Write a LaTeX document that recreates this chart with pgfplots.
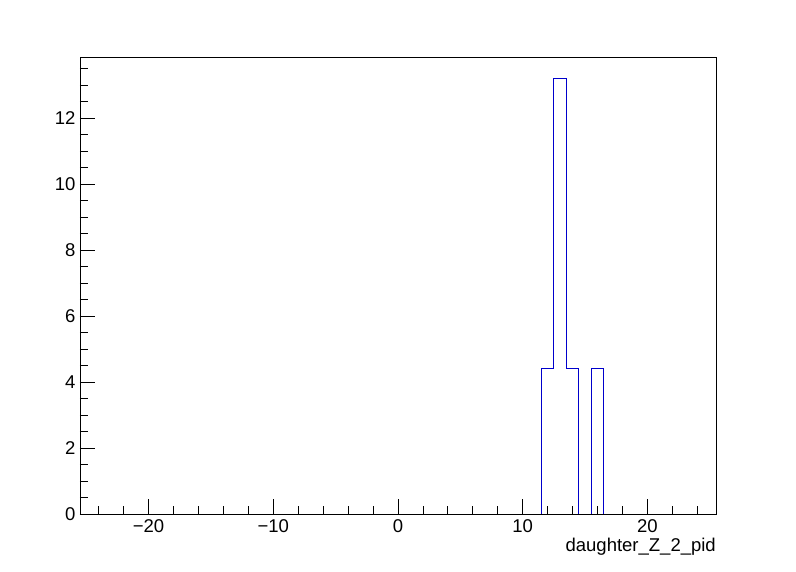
\documentclass[border=0pt]{standalone}
\usepackage{pgfplots}
\pgfplotsset{compat=1.18}
\usepackage{fontspec}
\setmainfont{Liberation Sans}
\definecolor{histblue}{RGB}{0,0,204}
\begin{document}
\begin{tikzpicture}[x=1pt,y=1pt]
\path[use as bounding box] (0,0) rectangle (796,572);
\begin{axis}[
  at={(80pt,58pt)}, anchor=south west,
  scale only axis, width=636pt, height=457pt,
  xmin=-25.5, xmax=25.5, ymin=0, ymax=13.86,
  axis line style={black, line width=0.8pt},
  tick pos=left, tick align=inside,
  xtick={-20,-10,0,10,20},
  xticklabels={−20,−10,0,10,20},
  minor xtick={-24,-22,...,24},
  ytick={0,2,...,12},
  yticklabels={0,2,4,6,8,10,12},
  minor ytick={0,0.5,...,13.5},
  major tick length=15pt, minor tick length=8pt,
  every tick/.style={black, line width=0.8pt},
  tick label style={font=\fontsize{18.5}{22}\selectfont},
  xticklabel style={yshift=-2pt},
  yticklabel style={xshift=-1pt},
  xlabel={daughter\_Z\_2\_pid},
  xlabel style={at={(rel axis cs:1,0)}, anchor=north east, yshift=-24pt, font=\fontsize{18.5}{22}\selectfont, inner sep=0pt},
  clip=false,
]
\addplot[histblue, line width=1pt, sharp plot] coordinates {
(11.5,0)(11.5,4.4)(12.5,4.4)(12.5,13.2)(13.5,13.2)(13.5,4.4)(14.5,4.4)(14.5,0)
};
\addplot[histblue, line width=1pt, sharp plot] coordinates {
(15.5,0)(15.5,4.4)(16.5,4.4)(16.5,0)
};
\end{axis}
\end{tikzpicture}
\end{document}
